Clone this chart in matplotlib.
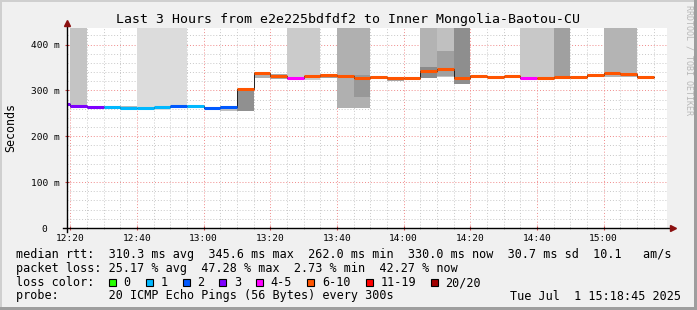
import numpy as np
import pandas as pd
import matplotlib
matplotlib.use("Agg")
import matplotlib.pyplot as plt
import matplotlib.dates as mdates
from matplotlib.patches import Rectangle
from matplotlib.lines import Line2D

# 5 minute steps, 12:15 .. 15:10 (start of each step)
times = pd.date_range("2025-07-01 12:15", periods=36, freq="5min")

median_ms = [270, 266, 263, 264.5, 261, 261, 263, 267, 265, 262,
             264, 304, 338, 331, 327, 331, 334, 331, 328, 330,
             326, 326, 343, 345.6, 327, 330.5, 330, 330.5, 327, 327,
             329.5, 330, 334, 338, 336, 330]
lost_pings = [3, 3, 3, 1, 1, 1, 1, 2, 1, 2,
              2, 7, 7, 6, 5, 7, 6, 6, 7, 6,
              6, 6, 9, 9, 8, 6, 6, 6, 5, 6,
              7, 6, 7, 7, 9, 8]
smoke_lo = [268, 262, 262, 262, 258, 257, 257, 262, 262, 260,
            256, 255, 327, 325, 323, 323, 327, 262, 262, 326,
            321, 322, 326, 330, 313, 327, 327, 327, 325, 324,
            327, 328, 330, 330, 330, 327]
smoke_hi = [271, 440, 264, 266, 266, 440, 440, 440, 266, 264,
            265, 302, 340, 336, 440, 440, 336, 440, 440, 332,
            328, 328, 440, 440, 440, 333, 331, 331, 440, 440,
            440, 332, 335, 440, 440, 331]
smoke_shade = ["#b0b0b0", "#c4c4c4", "#a8a8a8", "#a8a8a8", "#b8b8b8", "#dcdcdc",
               "#dcdcdc", "#dcdcdc", "#c8c8c8", "#b0b0b0", "#c0c0c0", "#909090",
               "#b0b0b0", "#a8a8a8", "#cbcbcb", "#cbcbcb", "#a0a0a0", "#b0b0b0",
               "#b0b0b0", "#a0a0a0", "#a8a8a8", "#b0b0b0", "#b3b3b3", "#c0c0c0",
               "#8e8e8e", "#a0a0a0", "#b0b0b0", "#b0b0b0", "#c8c8c8", "#c8c8c8",
               "#a0a0a0", "#b0b0b0", "#b0b0b0", "#b4b4b4", "#b4b4b4", "#a8a8a8"]
# denser smoke close to the median
core_idx = [18, 22, 23]
core_lo = [285, 328, 332]
core_hi = [333, 352, 385]
core_shade = ["#989898", "#8a8a8a", "#a0a0a0"]

loss_labels = ["0", "1", "2", "3", "4-5", "6-10", "11-19", "20/20"]
loss_colors = ["#26ff00", "#00b8ff", "#0059ff", "#7e00ff", "#ff00ff",
               "#ff5500", "#ff0000", "#a10000"]

title = "Last 3 Hours from e2e225bdfdf2 to Inner Mongolia-Baotou-CU"
rtt_line = "median rtt:  310.3 ms avg  345.6 ms max  262.0 ms min  330.0 ms now  30.7 ms sd  10.1   am/s"
loss_line = "packet loss: 25.17 % avg  47.28 % max  2.73 % min  42.27 % now"
probe_line = "probe:       20 ICMP Echo Pings (56 Bytes) every 300s"
stamp = "Tue Jul  1 15:18:45 2025"


def bucket(n):
    if n <= 3:
        return n
    if n <= 5:
        return 4
    if n <= 10:
        return 5
    if n < 20:
        return 6
    return 7


W, H = 697, 310
mono = "DejaVu Sans Mono"
fig = plt.figure(figsize=(W / 100, H / 100), dpi=100, facecolor="#f0f0f0")


def fx(x):
    return x / W


def fy(y):
    return 1 - y / H


ax = fig.add_axes([fx(67), fy(228), 600 / W, 200 / H])
ax.set_facecolor("white")

x = mdates.date2num(times)
step = 5 / 1440
lo = np.array(smoke_lo, float)
hi = np.array(smoke_hi, float)
ax.bar(x, hi - lo, bottom=lo, width=step, align="edge", color=smoke_shade,
       linewidth=0, zorder=2)
ax.bar(x[core_idx], np.array(core_hi) - np.array(core_lo), bottom=core_lo,
       width=step, align="edge", color=core_shade, linewidth=0, zorder=2)

med = np.array(median_ms)
ax.step(np.append(x, x[-1] + step), np.append(med, med[-1]), where="post",
        color="#202020", lw=0.7, zorder=3)
cols = [loss_colors[bucket(n)] for n in lost_pings]
ax.hlines(med, x, x + step, colors=cols, linewidth=2.2, zorder=4)

t0 = mdates.date2num(pd.Timestamp("2025-07-01 12:19:00"))
ax.set_xlim(t0, t0 + 180 / 1440)
ax.set_ylim(0, 436)

ax.xaxis.set_major_locator(mdates.MinuteLocator(byminute=[0, 20, 40]))
ax.xaxis.set_minor_locator(mdates.MinuteLocator(byminute=range(0, 60, 5)))
ax.xaxis.set_major_formatter(mdates.DateFormatter("%H:%M"))
ax.set_yticks([0, 100, 200, 300, 400])
ax.set_yticklabels(["0  ", "100 m", "200 m", "300 m", "400 m"])
ax.set_yticks(np.arange(0, 436, 20), minor=True)

ax.grid(which="minor", color="#c8c8c8", linestyle=(0, (1, 2)), linewidth=0.7, zorder=1)
ax.grid(which="major", color="#f08a8a", linestyle=(0, (1, 2)), linewidth=0.7, zorder=1)
ax.set_axisbelow(True)

ax.tick_params(which="major", direction="inout", length=3, color="#d04040",
               labelsize=6.8, pad=2.5)
ax.tick_params(axis="y", which="major", pad=4)
ax.tick_params(which="minor", direction="inout", length=2, color="#a0a0a0")
ax.tick_params(axis="y", which="minor", length=0)
for lab in ax.get_xticklabels() + ax.get_yticklabels():
    lab.set_family(mono)

for s in ["top", "right", "left", "bottom"]:
    ax.spines[s].set_visible(False)

# axes with arrows, drawn in pixel space
axis_kw = dict(color="black", lw=1.0, transform=fig.transFigure, zorder=6)
fig.add_artist(Line2D([fx(63), fx(670)], [fy(228), fy(228)], **axis_kw))
fig.add_artist(Line2D([fx(67), fx(67)], [fy(232), fy(24)], **axis_kw))
fig.add_artist(Line2D([fx(673)], [fy(228)], marker=">", markersize=4,
                      color="#8b1010", transform=fig.transFigure, zorder=7))
fig.add_artist(Line2D([fx(67)], [fy(23)], marker="^", markersize=4,
                      color="#8b1010", transform=fig.transFigure, zorder=7))

fig.text(fx(348), fy(19), title, ha="center", va="center", family=mono, size=9.5)
fig.text(fx(11), fy(127.5), "Seconds", rotation=90, ha="center", va="center",
         family=mono, size=8.4)
fig.text(fx(689), fy(5), "RRDTOOL / TOBI OETIKER", rotation=270, ha="center",
         va="top", family=mono, size=6, color="#b8b8b8")

fig.text(fx(16), fy(254.5), rtt_line, ha="left", va="center", family=mono, size=8.45)
fig.text(fx(16), fy(268.5), loss_line, ha="left", va="center", family=mono, size=8.45)
fig.text(fx(16), fy(282.5), "loss color:", ha="left", va="center", family=mono, size=8.45)
fig.text(fx(16), fy(296), probe_line, ha="left", va="center", family=mono, size=8.45)
fig.text(fx(681), fy(296), stamp, ha="right", va="center", family=mono, size=8.45)

box_x = [108.7, 145.7, 182.7, 219.3, 256, 307.3, 365.7, 430.7]
for bx, lab, c in zip(box_x, loss_labels, loss_colors):
    fig.add_artist(Rectangle((fx(bx), fy(286)), 7 / W, 7 / H, facecolor=c,
                             edgecolor="black", lw=0.8, transform=fig.transFigure))
    fig.text(fx(bx + 14.5), fy(282.5), lab, ha="left", va="center", family=mono, size=8.45)

# bevelled frame
fig.add_artist(Rectangle((0, fy(2)), 1, 2 / H, color="#cfcfcf", transform=fig.transFigure, lw=0))
fig.add_artist(Rectangle((0, 0), 2 / W, 1, color="#cfcfcf", transform=fig.transFigure, lw=0))
fig.add_artist(Rectangle((0, 0), 1, 3 / H, color="#9e9e9e", transform=fig.transFigure, lw=0))
fig.add_artist(Rectangle((fx(694), 0), 3 / W, 1, color="#9e9e9e", transform=fig.transFigure, lw=0))

fig.savefig("out.png", dpi=100, facecolor=fig.get_facecolor())
